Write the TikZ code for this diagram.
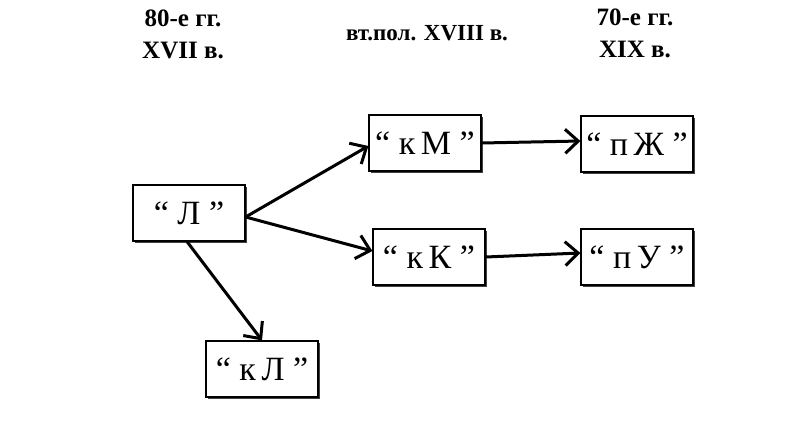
\documentclass[tikz,border=0pt]{standalone}
\usepackage{fontspec}
\setmainfont{Liberation Serif}
\usepackage{tikz}
\usetikzlibrary{arrows.meta, shadows, positioning, calc}

\begin{document}
\begin{tikzpicture}[x=1pt, y=-1pt,
    stage/.style={draw=black, line width=1.2pt, fill=white, inner sep=0pt,
      minimum width=112pt, minimum height=56pt,
      font=\fontsize{34}{40}\selectfont,
      drop shadow={shadow xshift=2pt, shadow yshift=-2pt, fill=black!75, opacity=1}},
    era/.style={align=center, font=\fontsize{25}{32}\selectfont\bfseries},
    link/.style={-{Straight Barb[length=13pt, width=24pt, line width=3pt]}, line width=3pt}]
      \useasboundingbox (0, 0) rectangle (797, 426);

      \node[era] (e1) at (183, 34) {80-е гг.\\XVII в.};
      \node[era, font=\fontsize{23}{27}\selectfont\bfseries] (e2) at (427, 33) {вт.пол. XVIII в.};
      \node[era] (e3) at (635, 33) {70-е гг.\\XIX в.};

      \node[stage] (l) at (189, 213) {“ Л ”};
      \node[stage] (km) at (425, 143) {“ к\,М ”};
      \node[stage] (kk) at (429, 257) {“ к\,К ”};
      \node[stage] (pzh) at (637, 144) {“ п\,Ж ”};
      \node[stage] (pu) at (637, 257) {“ п\,У ”};
      \node[stage] (kl) at (262, 369) {“ к\,Л ”};

      \draw[link] ([yshift=-4pt]l.east) -- ([yshift=-3pt]km.west);
      \draw[link] ([yshift=-4pt]l.east) -- ([yshift=6pt]kk.west);
      \draw[link] ([xshift=-2pt]l.south) -- (kl.north);
      \draw[link] (km.east) -- ([yshift=3pt]pzh.west);
      \draw[link] (kk.east) -- ([yshift=4pt]pu.west);

    \end{tikzpicture}
\end{document}
